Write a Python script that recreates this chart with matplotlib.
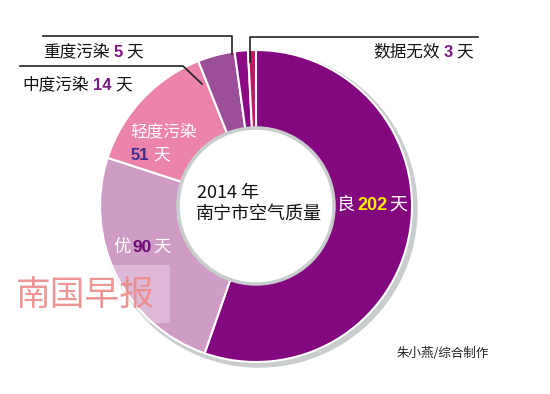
import matplotlib
matplotlib.use("Agg")
import matplotlib.pyplot as plt
from matplotlib.patches import Circle, Rectangle

plt.rcParams['font.family'] = ['Noto Sans CJK SC', 'DejaVu Sans']

# data (2014 南宁市空气质量, days)
categories = ['良', '优', '轻度污染', '中度污染', '重度污染', '数据无效']
days = [202, 90, 51, 14, 5, 3]
colors = ['#83077f', '#cf9cc6', '#ec83aa', '#9a4e98', '#8c0a86', '#c01860']

W, H = 550, 394
fig = plt.figure(figsize=(5.5, 3.94), dpi=100)
ax = fig.add_axes([0, 0, 1, 1])

cx, cy = 256, H - 206
r_out, r_in = 156, 77


def py(y):
    return H - y


# shadow ring behind the donut
ax.add_patch(Circle((cx + 3, cy - 3), r_out + 2, color='#c9cdcd', zorder=0))

ax.pie(days, colors=colors, startangle=90, counterclock=False,
       center=(cx, cy), radius=r_out,
       wedgeprops=dict(width=r_out - r_in, edgecolor='white', linewidth=1.5))

# inner hole rim
ax.add_patch(Circle((cx, cy), r_in + 1, facecolor='white', edgecolor='#c9cdcd',
                    linewidth=2.5, zorder=3))

ax.set_xlim(0, W)
ax.set_ylim(0, H)
ax.set_aspect('auto')
ax.axis('off')

fig.canvas.draw()
renderer = fig.canvas.get_renderer()


def rich(x, y, parts, size, gap=1):
    """Draw text pieces one after another, starting at pixel x, centred on pixel y."""
    for s, col, bold in parts:
        if bold:
            t = ax.text(x, py(y), s, color=col, fontsize=size, fontweight='bold',
                        family=['Liberation Sans', 'DejaVu Sans'], va='center', ha='left', zorder=5)
        else:
            t = ax.text(x, py(y), s, color=col, fontsize=size, va='center', ha='left', zorder=5)
        bb = t.get_window_extent(renderer)
        x += bb.width + gap


num = '#7a1a80'
ink = '#111111'
rich(43, 52, [('重度污染', ink, False), (str(days[4]), num, True), ('天', ink, False)], 12, gap=4)
rich(22, 85, [('中度污染', ink, False), (str(days[3]), num, True), ('天', ink, False)], 12, gap=4)
rich(373, 52, [('数据无效', ink, False), (str(days[5]), num, True), ('天', ink, False)], 12, gap=4)
rich(130, 132, [('轻度污染', 'white', False)], 12)
rich(131, 155, [(str(days[2]), '#3a2d8c', True), ('天', 'white', False)], 12, gap=4)
rich(337, 205, [('良', 'white', False), (str(days[0]), '#ffec00', True), ('天', 'white', False)], 13, gap=2)
rich(113, 247, [('优', 'white', False), (str(days[1]), '#6a0a78', True), ('天', 'white', False)], 12.5, gap=2)

# centre title
ax.text(197, py(193), '2014 年', fontsize=13, color=ink, va='center', ha='left', zorder=5)
ax.text(196, py(215), '南宁市空气质量', fontsize=13, color=ink, va='center', ha='left', zorder=5)

# leader lines
ax.plot([43, 232, 232], [py(36), py(36), py(54)], color='#222222', lw=1.2, zorder=6)
ax.plot([250, 250, 478], [py(62), py(37), py(37)], color='#222222', lw=1.2, zorder=6)
ax.plot([20, 183, 202], [py(66), py(66), py(84)], color='#222222', lw=1.2, zorder=6)

# credit
ax.text(397, py(353), '朱小燕/综合制作', fontsize=9, color='#222222', va='center', ha='left', zorder=5)

# newspaper watermark
ax.add_patch(Rectangle((110, py(323)), 60, 58, facecolor='white', alpha=0.3,
                       edgecolor='none', zorder=4))
ax.text(85, py(295), '南国早报', fontsize=25, color='#ec8a8a', alpha=0.9,
        style='italic', va='center', ha='center', zorder=5)

fig.savefig('out.png', dpi=100, facecolor='white')
